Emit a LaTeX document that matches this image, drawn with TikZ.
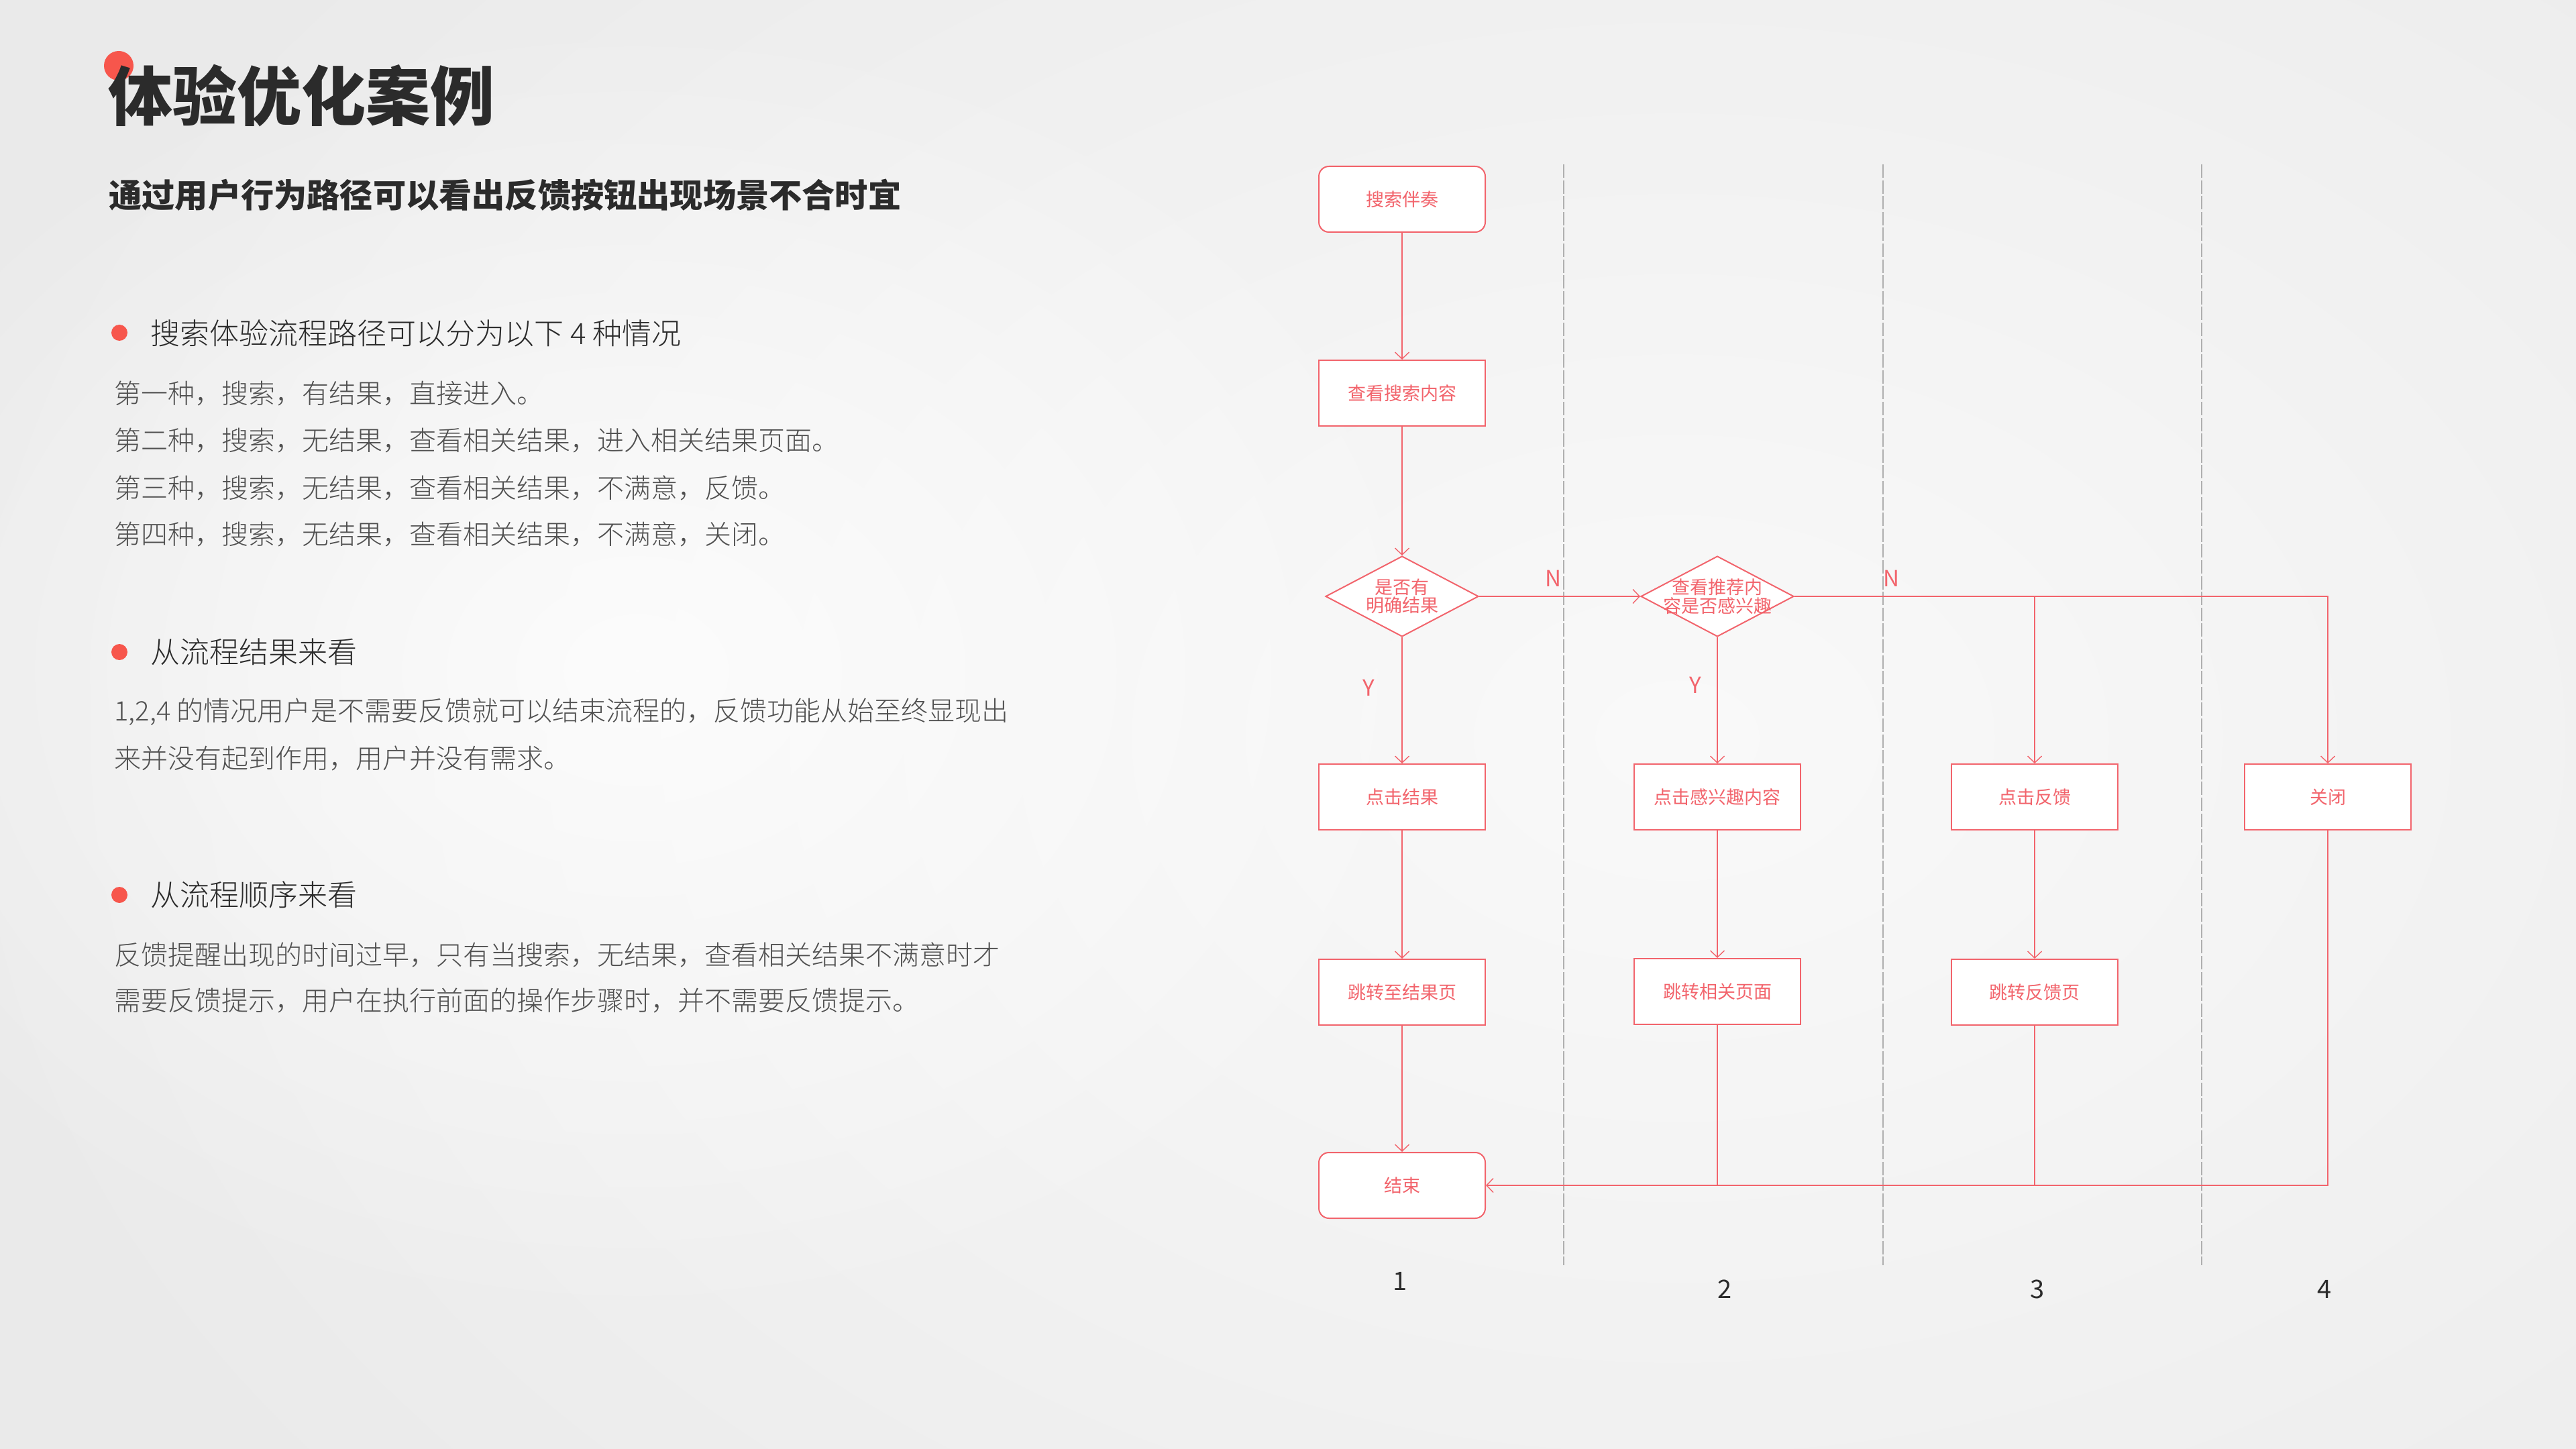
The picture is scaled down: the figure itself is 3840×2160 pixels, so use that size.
\documentclass[tikz,border=0pt]{standalone}
\usepackage{fontspec}
\setmainfont{Noto Sans CJK SC}
\newfontfamily\lightcjk{Noto Sans CJK SC}[UprightFont=* Light]
\usetikzlibrary{shapes.geometric,arrows.meta,fadings}

\definecolor{bggray}{RGB}{234,234,234}
\definecolor{flowred}{RGB}{242,100,108}
\definecolor{dotred}{RGB}{247,86,76}
\definecolor{lanegray}{RGB}{175,175,175}
\definecolor{inkdark}{RGB}{43,43,43}
\definecolor{inkgray}{RGB}{80,80,80}

\tikzfading[name=softglow, inner color=transparent!0, outer color=transparent!100]

\tikzset{every picture/.style={line width=0.75pt}}
\tikzset{
	titletext/.style={text=inkdark, inner sep=0pt, font=\fontsize{24pt}{26pt}\selectfont\bfseries},
	subtitle/.style={text=inkdark, inner sep=0pt, font=\fontsize{12.3pt}{14pt}\selectfont\bfseries},
	heading/.style={text=inkdark, inner sep=0pt, font=\fontsize{11pt}{12pt}\selectfont\lightcjk},
	bodytext/.style={text=inkgray, inner sep=0pt, font=\fontsize{10pt}{12pt}\selectfont\lightcjk},
	bullet/.style={circle, fill=dotred, minimum size=6pt, inner sep=0pt},
	flowtext/.style={text=flowred, align=center, inner sep=0pt, font=\fontsize{6.75pt}{6.9pt}\selectfont},
	flowbox/.style={draw=flowred, fill=white, line width=0.5pt, minimum width=62pt, minimum height=24.5pt, flowtext},
	flowround/.style={flowbox, rounded corners=3.75pt},
	flowdiamond/.style={diamond, draw=flowred, fill=white, line width=0.5pt, minimum width=57pt, minimum height=30pt, inner sep=0pt},
	flowline/.style={draw=flowred, line width=0.35pt, -{Straight Barb[length=2.5pt,width=5.25pt]}},
	flowplain/.style={draw=flowred, line width=0.35pt},
	yesno/.style={text=flowred, inner sep=0pt, font=\fontsize{8.3pt}{9pt}\selectfont},
	lane/.style={draw=lanegray, line width=0.3pt, dash pattern=on 5pt off 0.9pt},
	colnum/.style={text=inkdark, inner sep=0pt, font=\fontsize{9.5pt}{10pt}\selectfont}
}

\begin{document}
\begin{tikzpicture}[x=0.25pt,y=0.25pt,yscale=-1]
	\useasboundingbox (0,0) rectangle (3840,2160);
	%Background
	\fill[bggray] (0,0) rectangle (3840,2160);
	\fill[white, opacity=0.75, path fading=softglow] (2500,1100) ellipse (2700 and 1900);
	\fill[white, opacity=0.8, path fading=softglow] (950,1000) ellipse (1300 and 1000);
	
	% Title
	\node[bullet, minimum size=11pt] (titledot) at (177,98) {};
	\node[titletext, anchor=west] (title) at (160,143) {体验优化案例};
	\node[subtitle, anchor=west] (subtitle) at (161,291) {通过用户行为路径可以看出反馈按钮出现场景不合时宜};
	
	% Text Node
	\node[bullet] (dotA) at (178,496) {};
	\node[heading, anchor=west] (headA) at (223,497) {搜索体验流程路径可以分为以下 4 种情况};
	\node[bodytext, anchor=west] (caseA) at (169,587) {第一种，搜索，有结果，直接进入。};
	\node[bodytext, anchor=west] (caseB) at (169,657) {第二种，搜索，无结果，查看相关结果，进入相关结果页面。};
	\node[bodytext, anchor=west] (caseC) at (169,727) {第三种，搜索，无结果，查看相关结果，不满意，反馈。};
	\node[bodytext, anchor=west] (caseD) at (169,796) {第四种，搜索，无结果，查看相关结果，不满意，关闭。};
	% Text Node
	\node[bullet] (dotB) at (178,972) {};
	\node[heading, anchor=west] (headB) at (223,972) {从流程结果来看};
	\node[bodytext, anchor=west] (resultA) at (169,1061) {1,2,4 的情况用户是不需要反馈就可以结束流程的，反馈功能从始至终显现出};
	\node[bodytext, anchor=west] (resultB) at (169,1130) {来并没有起到作用，用户并没有需求。};
	% Text Node
	\node[bullet] (dotC) at (178,1334) {};
	\node[heading, anchor=west] (headC) at (223,1334) {从流程顺序来看};
	\node[bodytext, anchor=west] (orderA) at (169,1423) {反馈提醒出现的时间过早，只有当搜索，无结果，查看相关结果不满意时才};
	\node[bodytext, anchor=west] (orderB) at (169,1491) {需要反馈提示，用户在执行前面的操作步骤时，并不需要反馈提示。};
	
	%Dashed lanes
	\foreach \x in {2331,2807,3282}
		\draw[lane] (\x,245) -- (\x,1886);
	
	%Flowchart boxes
	\node[flowround] (search) at (2090,297) {搜索伴奏};
	\node[flowbox] (view) at (2090,586) {查看搜索内容};
	\node[flowdiamond, label={[flowtext]center:是否有\\明确结果}] (hasres) at (2090,889) {};
	\node[flowdiamond, label={[flowtext]center:查看推荐内\\容是否感兴趣}] (interest) at (2560,889) {};
	\node[flowbox] (clickres) at (2090,1188) {点击结果};
	\node[flowbox] (clickint) at (2560,1188) {点击感兴趣内容};
	\node[flowbox] (clickfb) at (3033,1188) {点击反馈};
	\node[flowbox] (close) at (3470,1188) {关闭};
	\node[flowbox] (jumpres) at (2090,1479) {跳转至结果页};
	\node[flowbox] (jumprel) at (2560,1478) {跳转相关页面};
	\node[flowbox] (jumpfb) at (3033,1479) {跳转反馈页};
	\node[flowround] (finish) at (2090,1767) {结束};
	
	%Straight Lines
	\draw[flowline] (search) -- (view);
	\draw[flowline] (view) -- (hasres);
	\draw[flowline] (hasres) -- (clickres);
	\draw[flowline] (clickres) -- (jumpres);
	\draw[flowline] (jumpres) -- (finish);
	\draw[flowline] (hasres.east) -- (interest.west);
	\draw[flowline] (interest) -- (clickint);
	\draw[flowline] (clickint) -- (jumprel);
	\draw[flowline] (interest.east) -- (interest.east -| close.north) -- (close.north);
	\coordinate (fbsplit) at (interest.east -| clickfb.north);
	\draw[flowline] (fbsplit) -- (clickfb.north);
	\draw[flowline] (clickfb) -- (jumpfb);
	\draw[flowline] (close.south) -- (close.south |- finish.east) -- (finish.east);
	\draw[flowplain] (jumprel.south) -- (jumprel.south |- finish.east);
	\draw[flowplain] (jumpfb.south) -- (jumpfb.south |- finish.east);
	
	% Text Node
	\node[yesno] (noA) at (2315,862) {N};
	\node[yesno] (noB) at (2819,862) {N};
	\node[yesno] (yesA) at (2040,1025) {Y};
	\node[yesno] (yesB) at (2527,1021) {Y};
	
	% Text Node
	\node[colnum] (laneone) at (2087,1910) {1};
	\node[colnum] (lanetwo) at (2571,1922) {2};
	\node[colnum] (lanethree) at (3037,1922) {3};
	\node[colnum] (lanefour) at (3465,1922) {4};
\end{tikzpicture}
\end{document}
